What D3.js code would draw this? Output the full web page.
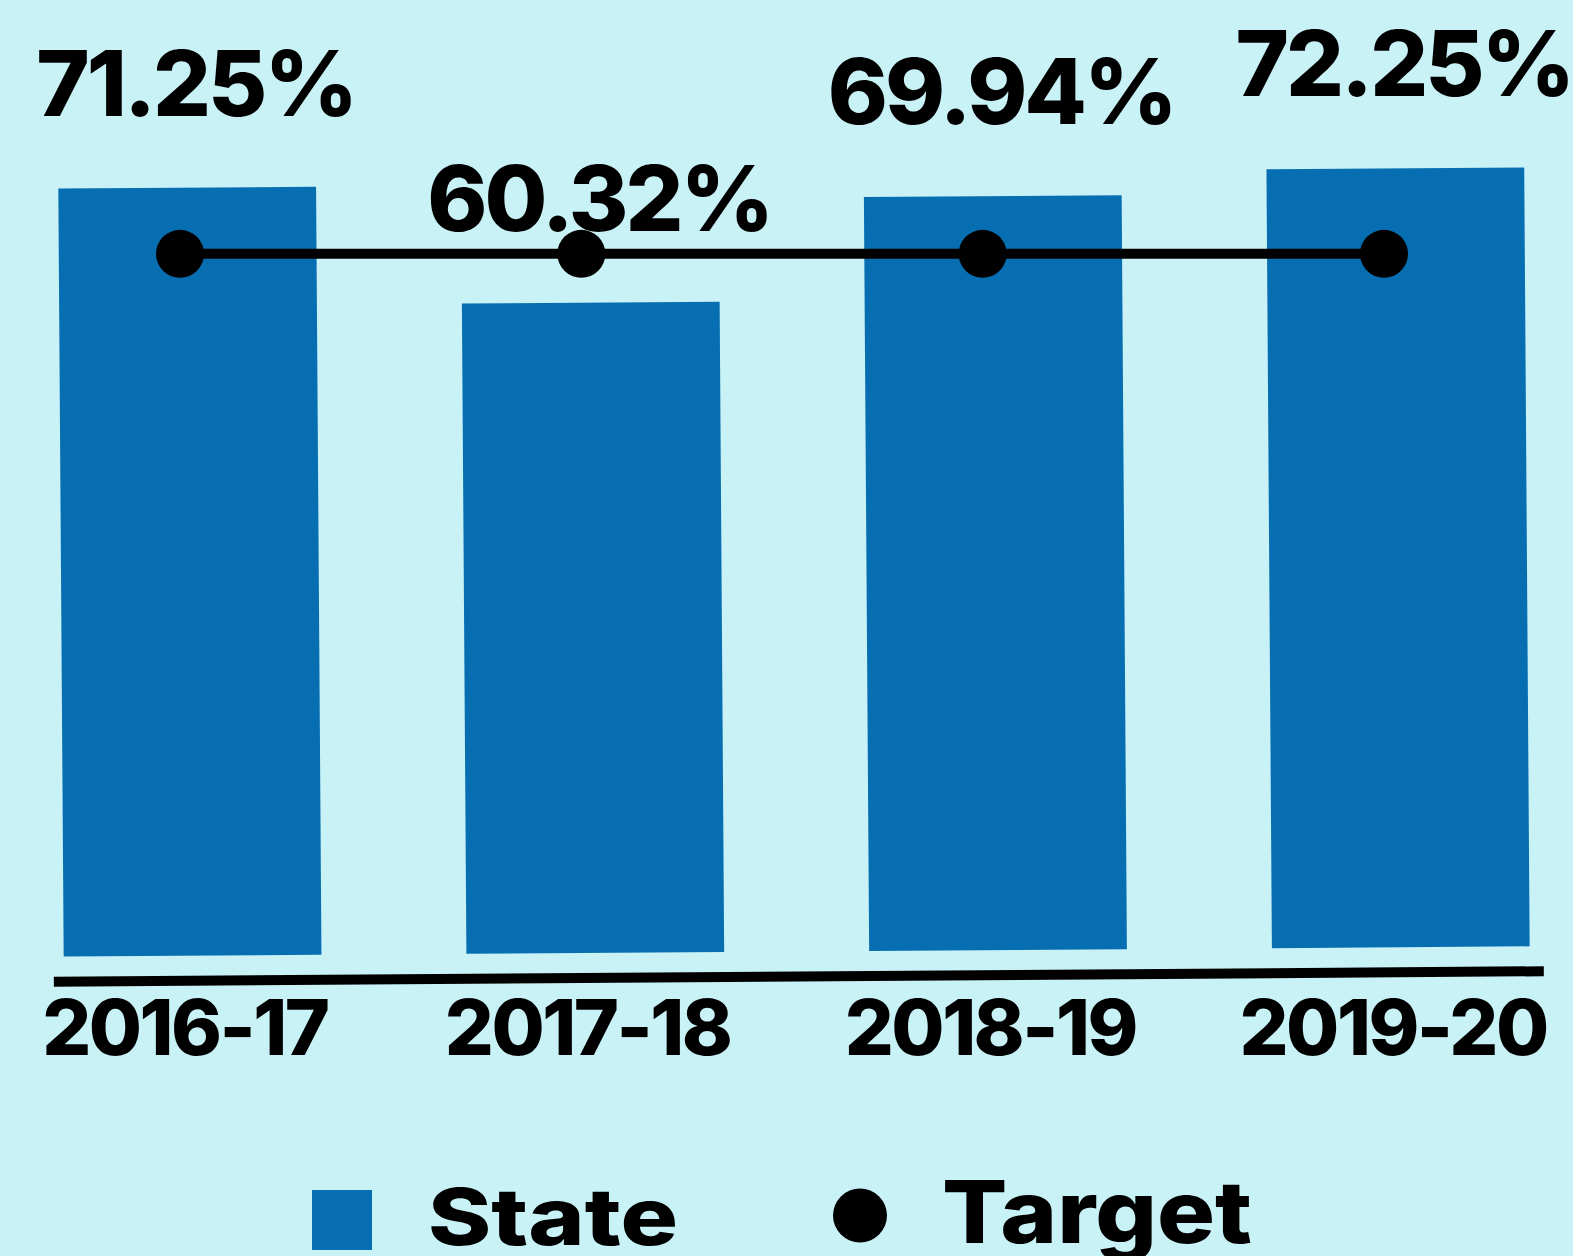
<!DOCTYPE html>
<html>
<head>
<meta charset="utf-8">
<script src="https://cdn.jsdelivr.net/npm/d3@7"></script>
<style>
  html, body { margin: 0; padding: 0; background: #c8f2f6; }
  svg { display: block; }
  text { font-family: Inter, "Open Sans", sans-serif; font-weight: 800; fill: #000; }
</style>
</head>
<body>
<div id="chart"></div>
<script>
// data
const years = ["2016-17", "2017-18", "2018-19", "2019-20"];
const stateValues = [71.25, 60.32, 69.94, 72.25];
const targetValues = [65, 65, 65, 65];
const valueLabels = ["71.25%", "60.32%", "69.94%", "72.25%"];

const width = 1573;
const height = 1256;
const barColor = "#066eb1";

// the whole plot is tilted a little in the picture
const angle = -0.4;
const pivot = [790, 570];
const rad = angle * Math.PI / 180;
function rot(px, py) {
    const dx = px - pivot[0], dy = py - pivot[1];
    return [pivot[0] + dx * Math.cos(rad) - dy * Math.sin(rad),
            pivot[1] + dx * Math.sin(rad) + dy * Math.cos(rad)];
}

const svg = d3.select("#chart")
    .append("svg")
    .attr("width", width)
    .attr("height", height);

svg.append("rect")
    .attr("width", width)
    .attr("height", height)
    .attr("fill", "#c8f2f6");

const x = d3.scaleBand()
    .domain(years)
    .range([61, 1527])
    .paddingInner(0.36)
    .paddingOuter(0);

const y = d3.scaleLinear()
    .domain([0, 80])
    .range([951.5, 89.1]);

const plot = svg.append("g")
    .attr("transform", `rotate(${angle},${pivot[0]},${pivot[1]})`);

// bars
plot.selectAll(".bar")
    .data(stateValues)
    .join("rect")
    .attr("class", "bar")
    .attr("x", (d, i) => x(years[i]))
    .attr("y", d => y(d))
    .attr("width", x.bandwidth())
    .attr("height", d => y(0) - y(d))
    .attr("fill", barColor);

// axis line
plot.append("line")
    .attr("x1", x.range()[0] - 10)
    .attr("x2", x.range()[1] + 14)
    .attr("y1", y(0) + 25)
    .attr("y2", y(0) + 25)
    .attr("stroke", "#000")
    .attr("stroke-width", 10);

// value labels (not tilted)
svg.selectAll(".val")
    .data(stateValues)
    .join("text")
    .attr("class", "val")
    .attr("transform", (d, i) => {
        const p = rot(x(years[i]) + x.bandwidth() / 2 + 9, y(d) - 72);
        return "translate(" + p + ")";
    })
    .attr("text-anchor", "middle")
    .attr("font-size", 91)
    .attr("letter-spacing", -3)
    .text((d, i) => valueLabels[i]);

// category labels
svg.selectAll(".cat")
    .data(years)
    .join("text")
    .attr("class", "cat")
    .attr("x", d => x(d) + x.bandwidth() / 2 - 5)
    .attr("y", 1055)
    .attr("text-anchor", "middle")
    .attr("font-size", 77)
    .attr("letter-spacing", -2.5)
    .text(d => d);

// target line + dots
const xt = d3.scalePoint()
    .domain(years)
    .range([180, 1384]);

const line = d3.line()
    .x((d, i) => xt(years[i]))
    .y(d => y(d) + 3);

svg.append("path")
    .datum(targetValues)
    .attr("d", line)
    .attr("fill", "none")
    .attr("stroke", "#000")
    .attr("stroke-width", 10);

svg.selectAll(".dot")
    .data(targetValues)
    .join("circle")
    .attr("class", "dot")
    .attr("cx", (d, i) => xt(years[i]))
    .attr("cy", d => y(d) + 3)
    .attr("r", 24)
    .attr("fill", "#000");

// legend
const legend = svg.append("g");
legend.append("rect")
    .attr("x", 312)
    .attr("y", 1190)
    .attr("width", 60)
    .attr("height", 60)
    .attr("fill", barColor);
legend.append("text")
    .attr("x", 428)
    .attr("y", 1245)
    .attr("font-size", 79)
    .attr("textLength", 250)
    .attr("lengthAdjust", "spacingAndGlyphs")
    .text("State");
legend.append("circle")
    .attr("cx", 860)
    .attr("cy", 1215.5)
    .attr("r", 27)
    .attr("fill", "#000");
legend.append("text")
    .attr("x", 942)
    .attr("y", 1243)
    .attr("font-size", 87)
    .attr("textLength", 310)
    .attr("lengthAdjust", "spacingAndGlyphs")
    .text("Target");
</script>
</body>
</html>
